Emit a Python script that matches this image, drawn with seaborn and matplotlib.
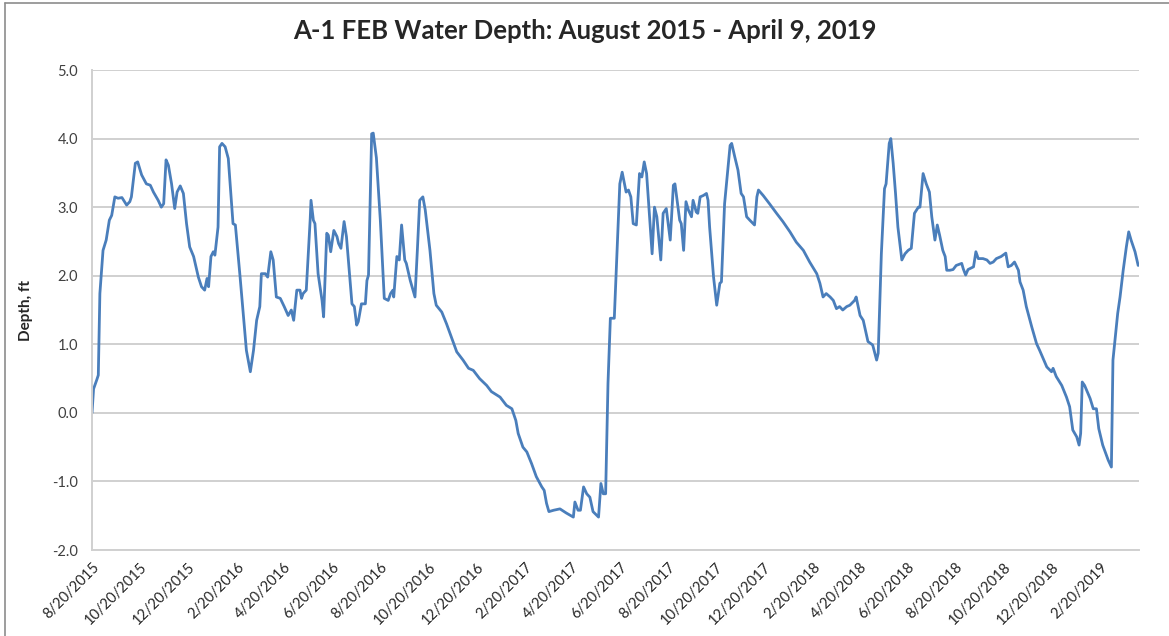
import pandas as pd
import matplotlib
matplotlib.use("Agg")
import matplotlib.pyplot as plt
from matplotlib.lines import Line2D
import seaborn as sns

# --- Data ---
start_date = "2015-08-20"
end_date = "2019-04-10"

# days since 8/20/2015
day_offset = [
    0, 2, 6, 8, 10, 14, 18, 22, 25, 29, 33, 38, 44, 48, 50, 55, 58, 63, 69, 74,
    78, 84, 88, 91, 94, 97, 101, 105, 108, 112, 116, 120, 124, 129, 135, 139, 143, 146, 148, 151,
    154, 156, 160, 162, 165, 169, 173, 179, 182, 188, 196, 201, 205, 209, 213, 215, 220, 223, 227, 230,
    234, 239, 244, 249, 253, 256, 260, 264, 266, 268, 272, 277, 278, 281, 283, 287, 292, 294, 298, 300,
    303, 307, 311, 313, 316, 320, 323, 330, 333, 336, 338, 342, 347, 349, 351, 355, 357, 361,
    366, 371, 376, 379, 382, 383, 387, 390, 393, 397, 399, 404, 410, 413, 416, 420, 423, 429, 434, 437,
    444, 450, 456, 463, 471, 478, 484, 492, 501, 507, 518, 526, 533, 538, 541, 547, 552, 558, 564, 571,
    574, 577, 580, 586, 594, 602, 611, 613, 617, 620, 624, 628, 632, 636, 643, 646, 649, 652, 655, 658,
    663, 666, 670, 673, 678, 681, 684, 687, 691, 695, 698, 701, 704, 711,
    714, 717, 722, 725, 729, 734, 738, 740, 746, 748, 751, 754, 757, 761, 763, 767, 769, 772, 776, 780,
    782, 784, 789, 793, 797, 799, 803, 810, 812, 816, 820, 824, 827, 831, 835, 841, 844, 846, 852, 860,
    869, 877, 886, 894, 903, 911, 920, 924, 928, 932, 937, 941, 945, 949, 953, 958, 962, 968, 970, 975,
    979, 985, 991, 996, 998, 1002, 1006, 1008, 1012, 1014, 1017, 1020, 1023, 1028, 1032, 1036, 1040, 1044, 1049, 1051,
    1055, 1059, 1063, 1066, 1070, 1073, 1076, 1080, 1083, 1085,
    1089, 1093, 1097, 1104, 1106, 1109, 1112, 1119, 1122, 1125, 1131, 1136, 1140, 1144, 1148, 1154, 1160, 1163, 1167, 1171,
    1176, 1178, 1182, 1186, 1193, 1199, 1203, 1212, 1218, 1220, 1224, 1231, 1237, 1241, 1245, 1250, 1253, 1255, 1257, 1260,
    1267, 1271, 1275, 1278, 1283, 1290, 1294, 1296, 1302, 1305, 1309, 1313, 1316, 1319, 1324, 1328,
]

depth_ft = [
    0.00, 0.35, 0.48, 0.55, 1.74, 2.37, 2.52, 2.81, 2.88, 3.15, 3.13, 3.14, 3.03, 3.08, 3.15, 3.64, 3.66, 3.47, 3.34, 3.32,
    3.22, 3.10, 3.00, 3.05, 3.69, 3.61, 3.34, 2.98, 3.22, 3.31, 3.20, 2.76, 2.42, 2.28, 1.98, 1.84, 1.79, 1.96, 1.84, 2.28,
    2.35, 2.30, 2.71, 3.88, 3.93, 3.88, 3.71, 2.76, 2.74, 1.98, 0.91, 0.60, 0.91, 1.35, 1.55, 2.03, 2.03, 1.98, 2.35, 2.23,
    1.69, 1.67, 1.55, 1.42, 1.50, 1.35, 1.79, 1.79, 1.67, 1.74, 1.79, 2.83, 3.10, 2.81, 2.76, 2.03, 1.64, 1.40, 2.62, 2.59,
    2.35, 2.66, 2.57, 2.47, 2.40, 2.79, 2.57, 1.59, 1.55, 1.28, 1.33, 1.59, 1.59, 1.93, 2.01, 4.07, 4.08, 3.72,
    2.81, 1.67, 1.64, 1.74, 1.79, 1.69, 2.28, 2.23, 2.74, 2.23, 2.18, 1.93, 1.69, 2.37, 3.10, 3.15, 2.96, 2.37, 1.74, 1.57,
    1.47, 1.30, 1.11, 0.89, 0.77, 0.65, 0.62, 0.50, 0.40, 0.31, 0.23, 0.11, 0.06, -0.11, -0.30, -0.50, -0.57, -0.74, -0.93, -1.08,
    -1.13, -1.32, -1.44, -1.42, -1.40, -1.46, -1.52, -1.30, -1.42, -1.42, -1.08, -1.18, -1.23, -1.44, -1.52, -1.03, -1.18, -1.18, 0.43, 1.38,
    1.38, 2.23, 3.34, 3.51, 3.22, 3.25, 3.15, 2.76, 2.74, 3.49, 3.44, 3.66, 3.49, 2.32,
    3.00, 2.86, 2.23, 2.91, 2.98, 2.52, 3.32, 3.34, 2.81, 2.76, 2.37, 3.08, 2.96, 2.86, 3.10, 2.93, 2.91, 3.15, 3.17, 3.20,
    3.10, 2.71, 1.98, 1.57, 1.89, 1.91, 3.05, 3.90, 3.93, 3.73, 3.54, 3.20, 3.15, 2.86, 2.81, 2.74, 3.15, 3.25, 3.17, 3.05,
    2.91, 2.79, 2.64, 2.49, 2.37, 2.20, 2.03, 1.89, 1.69, 1.74, 1.69, 1.64, 1.52, 1.55, 1.50, 1.55, 1.57, 1.64, 1.69, 1.42,
    1.35, 1.04, 0.99, 0.77, 0.87, 2.32, 3.27, 3.34, 3.93, 4.00, 3.64, 3.20, 2.71, 2.23, 2.32, 2.37, 2.40, 2.91, 3.00, 3.00,
    3.49, 3.34, 3.22, 2.86, 2.52, 2.74, 2.59, 2.37, 2.28, 2.08,
    2.08, 2.09, 2.15, 2.18, 2.10, 2.01, 2.09, 2.13, 2.35, 2.25, 2.25, 2.23, 2.18, 2.20, 2.25, 2.28, 2.33, 2.13, 2.15, 2.20,
    2.08, 1.91, 1.79, 1.55, 1.25, 1.01, 0.91, 0.67, 0.60, 0.65, 0.53, 0.40, 0.23, 0.09, -0.25, -0.35, -0.47, -0.30, 0.45, 0.40,
    0.21, 0.06, 0.06, -0.23, -0.47, -0.69, -0.79, 0.77, 1.45, 1.69, 2.08, 2.42, 2.64, 2.52, 2.35, 2.15,
]

tick_labels = [
    "8/20/2015", "10/20/2015", "12/20/2015", "2/20/2016", "4/20/2016", "6/20/2016",
    "8/20/2016", "10/20/2016", "12/20/2016", "2/20/2017", "4/20/2017", "6/20/2017",
    "8/20/2017", "10/20/2017", "12/20/2017", "2/20/2018", "4/20/2018", "6/20/2018",
    "8/20/2018", "10/20/2018", "12/20/2018", "2/20/2019",
]
y_ticks = [-2, -1, 0, 1, 2, 3, 4, 5]

df = pd.DataFrame({
    "date": pd.Timestamp(start_date) + pd.to_timedelta(day_offset, unit="D"),
    "depth": depth_ft,
})

# --- Plot ---
sns.set_style("white")
plt.rcParams["font.family"] = ["Lato", "DejaVu Sans"]

fig = plt.figure(figsize=(11.69, 6.36), dpi=100)
ax = fig.add_axes([0.0787, 0.1352, 0.8956, 0.7547])

sns.lineplot(data=df, x="date", y="depth", color="#4a7ebb", linewidth=2.0, ax=ax)

ax.set_xlim(pd.Timestamp(start_date), pd.Timestamp(end_date))
ax.set_ylim(-2, 5)

tick_dates = pd.to_datetime(tick_labels, format="%m/%d/%Y")
ax.set_xticks(tick_dates)
ax.set_xticklabels(tick_labels, rotation=45, ha="right", rotation_mode="anchor",
                   fontsize=10.5, color="#262626")
ax.set_yticks(y_ticks)
ax.set_yticklabels([f"{v:.1f}" for v in y_ticks], fontsize=10.5, color="#404040")

ax.tick_params(axis="both", direction="out", length=4, color="#d0d0d0", width=1.2)
ax.tick_params(axis="x", pad=3)
ax.tick_params(axis="y", pad=6)

ax.grid(axis="y", color="#d0d0d0", linewidth=1.4)
ax.grid(axis="x", visible=False)
for side in ["top", "right"]:
    ax.spines[side].set_visible(False)
for side in ["left", "bottom"]:
    ax.spines[side].set_color("#d0d0d0")
    ax.spines[side].set_linewidth(1.4)

ax.set_xlabel("")
ax.set_ylabel("Depth, ft", fontsize=11, fontweight="bold", labelpad=14)
fig.suptitle("A-1 FEB Water Depth: August 2015 - April 9, 2019",
             fontsize=18.5, fontweight="bold", x=0.5, y=0.97)

# chart-area border (top and left edges visible in the export)
fig.add_artist(Line2D([0.004, 0.004], [0.0, 0.995], transform=fig.transFigure,
                      color="#8c8c8c", linewidth=1.2))
fig.add_artist(Line2D([0.004, 1.0], [0.995, 0.995], transform=fig.transFigure,
                      color="#8c8c8c", linewidth=1.2))

fig.savefig("out.png", dpi=100)
